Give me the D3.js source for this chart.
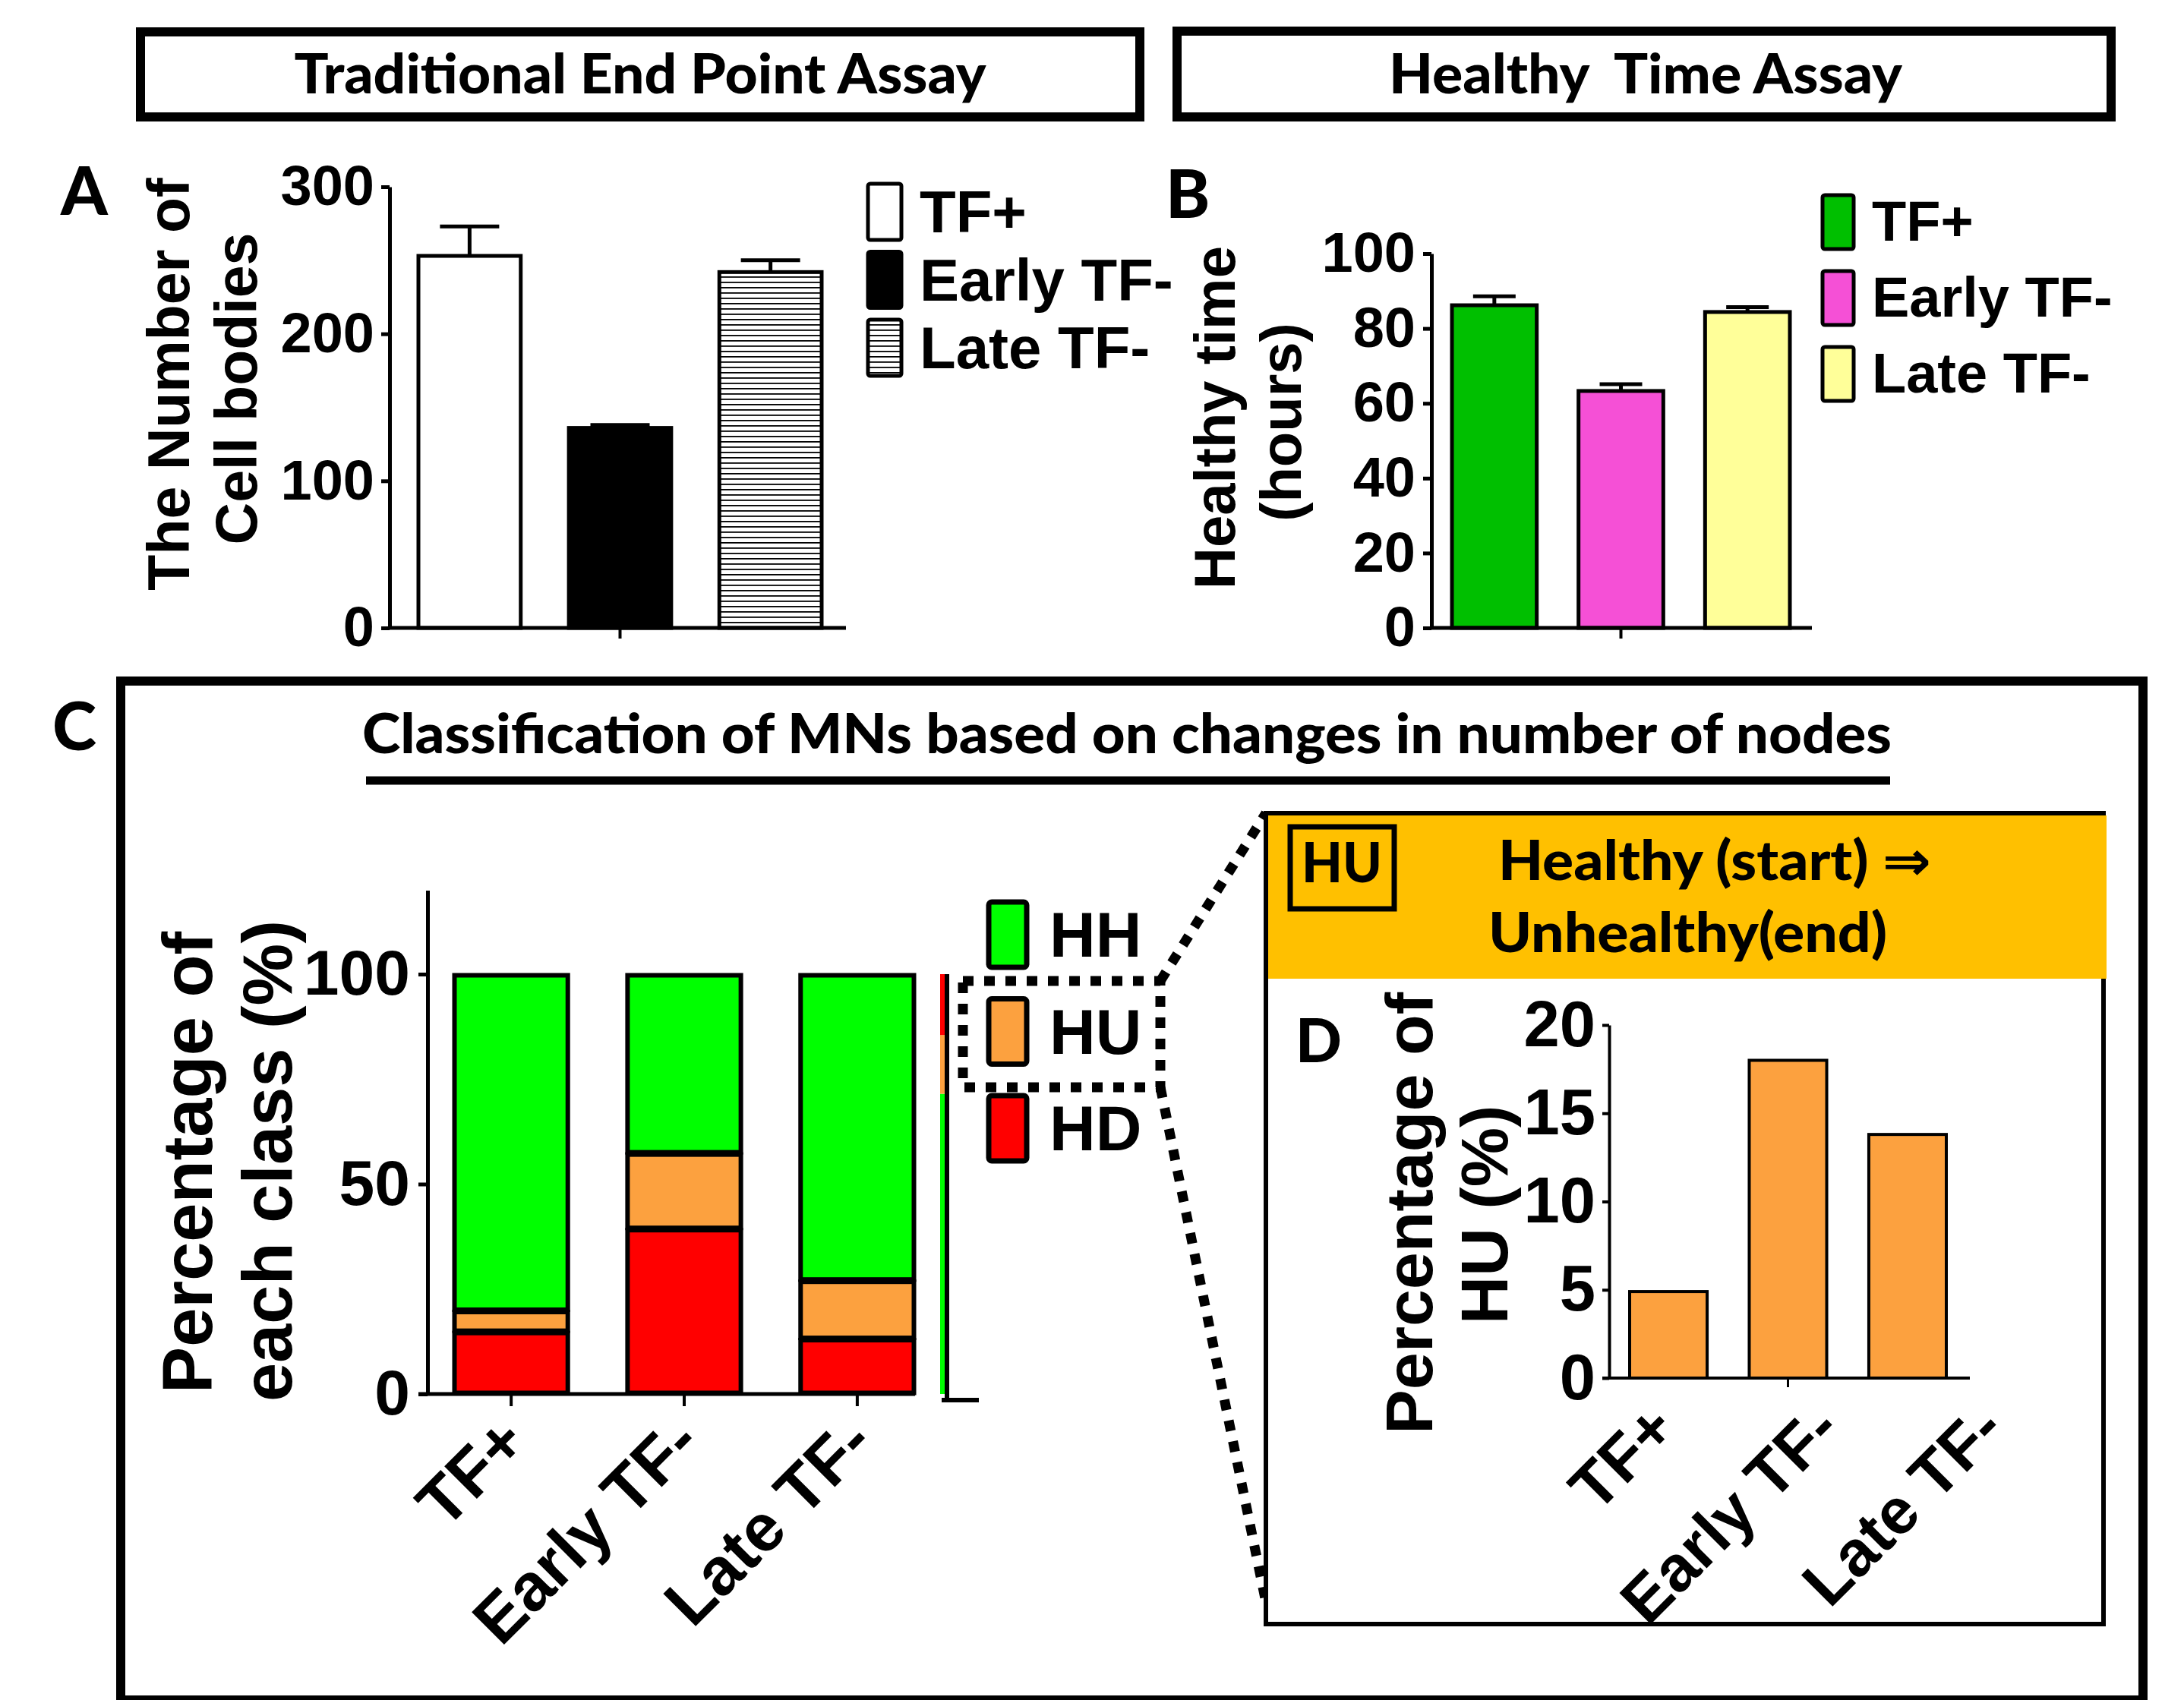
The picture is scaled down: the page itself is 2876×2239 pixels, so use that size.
<!DOCTYPE html>
<html>
  <head>
    <script type="text/javascript" src="https://d3js.org/d3.v7.min.js"></script>
    <style type="text/css">

html, body {
  margin: 0;
  background: #fff;
}

svg {
  display: block;
}

    </style>
  </head>
  <body>
    <script type="text/javascript">

// data
var groups = ["TF+", "Early TF-", "Late TF-"];

var cellBodies = [253, 136, 242],
    cellBodiesErr = [20, 2, 8];
var countTicks = [0, 100, 200, 300];

var healthyTime = [86.2, 63.3, 84.4],
    healthyTimeErr = [2.4, 1.8, 1.3];
var hourTicks = [0, 20, 40, 60, 80, 100];

var classes = ["HD", "HU", "HH"];
var legendClasses = ["HH", "HU", "HD"];
var hdPct = [14.8, 39.3, 13.1],
    huPct = [5.0, 18.0, 13.9],
    hhPct = [80.2, 42.7, 73.0];
var pctTicks = [0, 50, 100];

// sliver of a cut-off stacked bar at the right edge of panel C
var clippedBar = [
  {cls: "HH", lo: 0, hi: 71.5},
  {cls: "HU", lo: 71.5, hi: 85.5},
  {cls: "HD", lo: 85.5, hi: 100}
];

var huOnly = [4.9, 18.0, 13.8];
var huTicks = [0, 5, 10, 15, 20];

var ARIAL = "'Liberation Sans', Arial, sans-serif",
    CAL = "Lato, 'DejaVu Sans', sans-serif";

var classColor = {HH: "#00ff00", HU: "#fca13f", HD: "#ff0000"};
var colorsB = ["#00bf00", "#f550d6", "#ffff99"];

var svg = d3.select("body").append("svg")
    .attr("width", 2876)
    .attr("height", 2239);

var defs = svg.append("defs");
var pat = defs.append("pattern")
    .attr("id", "stripes")
    .attr("patternUnits", "userSpaceOnUse")
    .attr("width", 10)
    .attr("height", 7);
pat.append("rect").attr("width", 10).attr("height", 7).attr("fill", "#fff");
pat.append("rect").attr("y", 0).attr("width", 10).attr("height", 1.8).attr("fill", "#000");

var fillsA = ["#fff", "#000", "url(#stripes)"];

svg.append("rect").attr("width", 2876).attr("height", 2239).attr("fill", "#fff");

function label(x, y, txt, size, opts) {
  opts = opts || {};
  var t = svg.append("text")
      .attr("x", x)
      .attr("y", y)
      .attr("font-family", opts.family || CAL)
      .attr("font-weight", opts.family ? "bold" : 900)
      .attr("font-size", size)
      .attr("text-anchor", opts.anchor || "start")
      .style("white-space", "pre")
      .text(txt);
  if (opts.len) t.attr("textLength", opts.len).attr("lengthAdjust", "spacingAndGlyphs");
  return t;
}

function vlabel(x, y, txt, size) {
  svg.append("text")
      .attr("transform", "translate(" + x + "," + y + ") rotate(-90)")
      .attr("text-anchor", "middle")
      .attr("font-family", ARIAL)
      .attr("font-weight", "bold")
      .attr("font-size", size)
      .text(txt);
}

function styleAxis(g, size, sw) {
  g.selectAll("path, line").attr("stroke", "#000").attr("stroke-width", sw);
  g.selectAll("text")
      .attr("font-family", ARIAL)
      .attr("font-weight", "bold")
      .attr("font-size", size)
      .attr("fill", "#000");
}

// ---- title boxes ----
svg.append("rect").attr("x", 185).attr("y", 42).attr("width", 1316).attr("height", 112)
    .attr("fill", "none").attr("stroke", "#000").attr("stroke-width", 12);
label(843, 123, "Traditional End Point Assay", 72, {anchor: "middle", len: 911});

svg.append("rect").attr("x", 1550).attr("y", 41).attr("width", 1230).attr("height", 113)
    .attr("fill", "none").attr("stroke", "#000").attr("stroke-width", 12);
label(2167, 123, "Healthy  Time Assay", 72, {anchor: "middle", len: 676});

label(80, 283, "A", 88);
label(1535, 287, "B", 88);

// ---- panel A ----
var yA = d3.scaleLinear().domain([0, 300]).range([827, 246]);
var xA = d3.scaleBand().domain(groups).range([551, 1082]).paddingInner(0.32);

svg.append("g").selectAll("rect")
    .data(cellBodies)
  .enter().append("rect")
    .attr("x", function(d, i) { return xA(groups[i]); })
    .attr("y", function(d) { return yA(d); })
    .attr("width", xA.bandwidth())
    .attr("height", function(d) { return yA(0) - yA(d); })
    .attr("fill", function(d, i) { return fillsA[i]; })
    .attr("stroke", "#000")
    .attr("stroke-width", 5);

var errA = svg.append("g").attr("stroke", "#000").attr("stroke-width", 5);
cellBodies.forEach(function(v, i) {
  var cx = xA(groups[i]) + xA.bandwidth() / 2;
  errA.append("line").attr("x1", cx).attr("x2", cx).attr("y1", yA(v)).attr("y2", yA(v + cellBodiesErr[i]));
  errA.append("line").attr("x1", cx - 39).attr("x2", cx + 39).attr("y1", yA(v + cellBodiesErr[i])).attr("y2", yA(v + cellBodiesErr[i]));
});

var axA = svg.append("g").attr("transform", "translate(513,0)")
    .call(d3.axisLeft(yA).tickValues(countTicks).tickSize(11).tickSizeOuter(0).tickPadding(9));
styleAxis(axA, 74, 5);
svg.append("line").attr("x1", 511).attr("x2", 1114).attr("y1", yA(0)).attr("y2", yA(0))
    .attr("stroke", "#000").attr("stroke-width", 5);
svg.append("line").attr("x1", xA(groups[1]) + xA.bandwidth() / 2).attr("x2", xA(groups[1]) + xA.bandwidth() / 2)
    .attr("y1", yA(0)).attr("y2", yA(0) + 14).attr("stroke", "#000").attr("stroke-width", 4);

vlabel(249, 506, "The Number of", 77);
vlabel(338, 512, "Cell bodies", 77);

// legend A
var legA = d3.scalePoint().domain(groups).range([242, 421]);
groups.forEach(function(g, i) {
  svg.append("rect").attr("x", 1143).attr("y", legA(g)).attr("width", 44).attr("height", 74)
      .attr("rx", 3).attr("fill", fillsA[i]).attr("stroke", "#000").attr("stroke-width", 5);
  label(1211, legA(g) + 64, g, 78, {family: ARIAL});
});

// ---- panel B ----
var yB = d3.scaleLinear().domain([0, 100]).range([827, 334]);
var xB = d3.scaleBand().domain(groups).range([1912, 2357]).paddingInner(0.33);

svg.append("g").selectAll("rect")
    .data(healthyTime)
  .enter().append("rect")
    .attr("x", function(d, i) { return xB(groups[i]); })
    .attr("y", function(d) { return yB(d); })
    .attr("width", xB.bandwidth())
    .attr("height", function(d) { return yB(0) - yB(d); })
    .attr("fill", function(d, i) { return colorsB[i]; })
    .attr("stroke", "#000")
    .attr("stroke-width", 5);

var errB = svg.append("g").attr("stroke", "#000").attr("stroke-width", 5);
healthyTime.forEach(function(v, i) {
  var cx = xB(groups[i]) + xB.bandwidth() / 2;
  errB.append("line").attr("x1", cx).attr("x2", cx).attr("y1", yB(v)).attr("y2", yB(v + healthyTimeErr[i]));
  errB.append("line").attr("x1", cx - 28).attr("x2", cx + 28).attr("y1", yB(v + healthyTimeErr[i])).attr("y2", yB(v + healthyTimeErr[i]));
});

var axB = svg.append("g").attr("transform", "translate(1885,0)")
    .call(d3.axisLeft(yB).tickValues(hourTicks).tickSize(11).tickSizeOuter(0).tickPadding(10));
styleAxis(axB, 74, 5);
svg.append("line").attr("x1", 1883).attr("x2", 2386).attr("y1", yB(0)).attr("y2", yB(0))
    .attr("stroke", "#000").attr("stroke-width", 5);
svg.append("line").attr("x1", xB(groups[1]) + xB.bandwidth() / 2).attr("x2", xB(groups[1]) + xB.bandwidth() / 2)
    .attr("y1", yB(0)).attr("y2", yB(0) + 14).attr("stroke", "#000").attr("stroke-width", 4);

vlabel(1626, 550, "Healthy time", 76);
vlabel(1713, 556, "(hours)", 76);

var legB = d3.scalePoint().domain(groups).range([257, 457]);
groups.forEach(function(g, i) {
  svg.append("rect").attr("x", 2400).attr("y", legB(g)).attr("width", 41).attr("height", 71)
      .attr("rx", 3).attr("fill", colorsB[i]).attr("stroke", "#000").attr("stroke-width", 5);
  label(2465, legB(g) + 60, g, 74, {family: ARIAL});
});

// ---- panel C frame ----
svg.append("rect").attr("x", 159).attr("y", 897).attr("width", 2663).attr("height", 1342)
    .attr("fill", "none").attr("stroke", "#000").attr("stroke-width", 12);
label(69, 988, "C", 88);
label(477, 992, "Classification of MNs based on changes in number of nodes", 72, {len: 2014});
svg.append("line").attr("x1", 482).attr("x2", 2489).attr("y1", 1028).attr("y2", 1028)
    .attr("stroke", "#000").attr("stroke-width", 11);

// ---- panel C stacked bars ----
var yC = d3.scaleLinear().domain([0, 120]).range([1836, 1836 - 120 * 5.53]);
var xC = d3.scaleBand().domain(groups).range([597, 1205]).paddingInner(0.332);

var stackRows = groups.map(function(g, i) {
  return {group: g, HD: hdPct[i], HU: huPct[i], HH: hhPct[i]};
});
var series = d3.stack().keys(classes)(stackRows);

svg.append("g").selectAll("g")
    .data(series)
  .enter().append("g")
    .attr("fill", function(s) { return classColor[s.key]; })
  .selectAll("rect")
    .data(function(s) { return s; })
  .enter().append("rect")
    .attr("x", function(d) { return xC(d.data.group) + 1.5; })
    .attr("y", function(d) { return yC(d[1]) + 1.5; })
    .attr("width", xC.bandwidth() - 3)
    .attr("height", function(d) { return yC(d[0]) - yC(d[1]) - 3; })
    .attr("stroke", "#000")
    .attr("stroke-width", 6);

var axC = svg.append("g").attr("transform", "translate(563,0)")
    .call(d3.axisLeft(yC).tickValues(pctTicks).tickSize(12).tickSizeOuter(0).tickPadding(11));
styleAxis(axC, 84, 5);
svg.append("line").attr("x1", 551).attr("x2", 1205).attr("y1", yC(0)).attr("y2", yC(0))
    .attr("stroke", "#000").attr("stroke-width", 5);
svg.append("g").selectAll("line")
    .data(groups)
  .enter().append("line")
    .attr("x1", function(g) { return xC(g) + xC.bandwidth() / 2; })
    .attr("x2", function(g) { return xC(g) + xC.bandwidth() / 2; })
    .attr("y1", yC(0))
    .attr("y2", yC(0) + 16)
    .attr("stroke", "#000")
    .attr("stroke-width", 4);

svg.append("g").selectAll("text")
    .data(groups)
  .enter().append("text")
    .attr("transform", function(g) {
      return "translate(" + (xC(g) + xC.bandwidth() / 2 + 25) + "," + (yC(0) + 68) + ") rotate(-45)";
    })
    .attr("text-anchor", "end")
    .attr("font-family", ARIAL)
    .attr("font-weight", "bold")
    .attr("font-size", 88)
    .text(function(g) { return g; });

vlabel(279, 1531, "Percentage of", 92);
vlabel(384, 1529, "each class (%)", 92);

// cut-off sliver and its axis stub
svg.append("g").selectAll("rect")
    .data(clippedBar)
  .enter().append("rect")
    .attr("x", 1238)
    .attr("y", function(d) { return yC(d.hi); })
    .attr("width", 6)
    .attr("height", function(d) { return yC(d.lo) - yC(d.hi); })
    .attr("fill", function(d) { return classColor[d.cls]; });
svg.append("line").attr("x1", 1247).attr("x2", 1247).attr("y1", yC(100)).attr("y2", yC(0) + 10)
    .attr("stroke", "#000").attr("stroke-width", 6);
svg.append("line").attr("x1", 1240).attr("x2", 1289).attr("y1", yC(0) + 8).attr("y2", yC(0) + 8)
    .attr("stroke", "#000").attr("stroke-width", 6);

// legend C
var legC = d3.scalePoint().domain(legendClasses).range([1188, 1443]);
legendClasses.forEach(function(c) {
  svg.append("rect").attr("x", 1302).attr("y", legC(c)).attr("width", 50).attr("height", 86)
      .attr("rx", 4).attr("fill", classColor[c]).attr("stroke", "#000").attr("stroke-width", 7);
  label(1382, legC(c) + 72, c, 84, {family: ARIAL});
});

// dotted zoom callout
var dots = svg.append("g").attr("fill", "none").attr("stroke", "#000")
    .attr("stroke-width", 13).attr("stroke-dasharray", "14,14");
dots.append("rect").attr("x", 1268).attr("y", 1292).attr("width", 260).attr("height", 140);
dots.append("line").attr("x1", 1528).attr("y1", 1292).attr("x2", 1667).attr("y2", 1071);
dots.append("line").attr("x1", 1528).attr("y1", 1432).attr("x2", 1667).attr("y2", 2110);

// ---- panel D ----
svg.append("rect").attr("x", 1667).attr("y", 1071).attr("width", 1103).attr("height", 1068)
    .attr("fill", "#fff").attr("stroke", "#000").attr("stroke-width", 6);
svg.append("rect").attr("x", 1670).attr("y", 1074).attr("width", 1104).attr("height", 215)
    .attr("fill", "#ffc000");
svg.append("rect").attr("x", 1699).attr("y", 1089).attr("width", 137).attr("height", 108)
    .attr("fill", "none").attr("stroke", "#000").attr("stroke-width", 7);
label(1767, 1162, "HU", 72, {anchor: "middle", len: 106});
label(1973, 1159, "Healthy (start) \u21d2", 72, {len: 570});
label(1960, 1254, "Unhealthy(end)", 72, {len: 525});
label(1706, 1399, "D", 80);

var yD = d3.scaleLinear().domain([0, 20]).range([1815, 1350]);
var xD = d3.scaleBand().domain(groups).range([2146, 2563]).paddingInner(0.352);

svg.append("g").selectAll("rect")
    .data(huOnly)
  .enter().append("rect")
    .attr("x", function(d, i) { return xD(groups[i]); })
    .attr("y", function(d) { return yD(d); })
    .attr("width", xD.bandwidth())
    .attr("height", function(d) { return yD(0) - yD(d); })
    .attr("fill", classColor.HU)
    .attr("stroke", "#000")
    .attr("stroke-width", 4);

var axD = svg.append("g").attr("transform", "translate(2119,0)")
    .call(d3.axisLeft(yD).tickValues(huTicks).tickSize(9).tickSizeOuter(0).tickPadding(9));
styleAxis(axD, 85, 4);
svg.append("line").attr("x1", 2110).attr("x2", 2594).attr("y1", yD(0)).attr("y2", yD(0))
    .attr("stroke", "#000").attr("stroke-width", 4);
svg.append("line").attr("x1", xD(groups[1]) + xD.bandwidth() / 2).attr("x2", xD(groups[1]) + xD.bandwidth() / 2)
    .attr("y1", yD(0)).attr("y2", yD(0) + 12).attr("stroke", "#000").attr("stroke-width", 3);

// the rotated labels here sit on their own spacing, wider than the bars
var labD = d3.scalePoint().domain(groups).range([2211, 2643]);
svg.append("g").selectAll("text")
    .data(groups)
  .enter().append("text")
    .attr("transform", function(g) {
      return "translate(" + labD(g) + "," + (yD(0) + 71) + ") rotate(-45)";
    })
    .attr("text-anchor", "end")
    .attr("font-family", ARIAL)
    .attr("font-weight", "bold")
    .attr("font-size", 85)
    .text(function(g) { return g; });

vlabel(1886, 1598, "Percentage of", 88);
vlabel(1985, 1600, "HU (%)", 88);

    </script>
  </body>
</html>
